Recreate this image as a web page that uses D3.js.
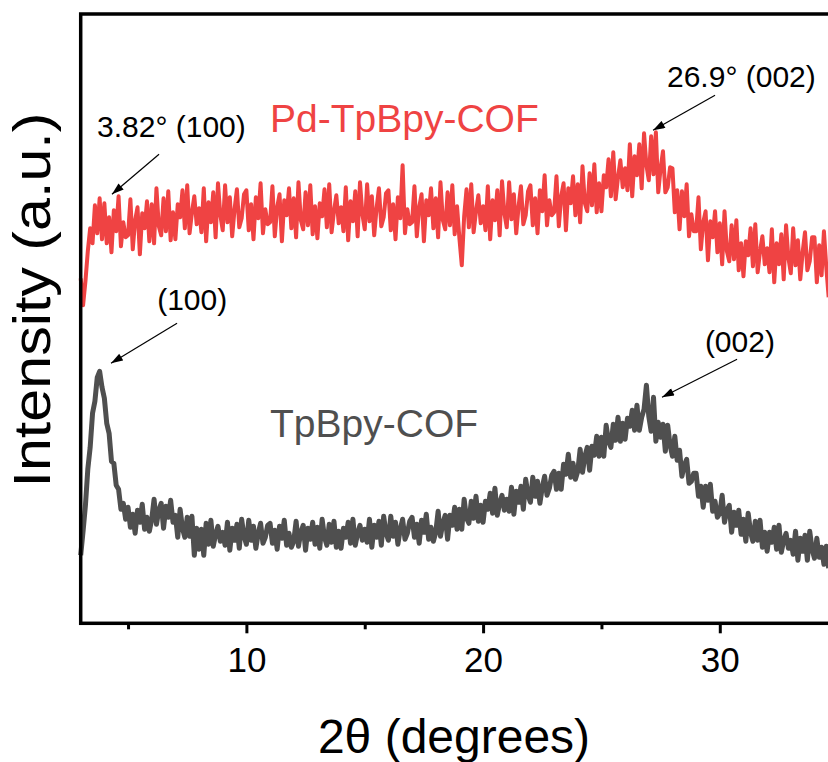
<!DOCTYPE html>
<html>
<head>
<meta charset="utf-8">
<script src="https://d3js.org/d3.v7.min.js"></script>
<style>
    body { margin: 0; background: #fff; }
    svg { display: block; font-family: "Liberation Sans", Arial, sans-serif; }
</style>
</head>
<body>
<div id="chart"></div>
<script>

// scan grid: 2theta from 3.0 deg, 0.1 deg per step, up to 34.6 deg
const twoTheta = d3.range(317).map(i => 3 + i * 0.1);

// TpBpy-COF intensity (a.u.), one row per degree
const tpbpy = [
    68, 92, 118, 154, 176, 210, 222, 246, 252, 236,
    225, 200, 190, 162, 160, 138, 134, 114, 120, 104,
    116, 96, 109, 90, 113, 101, 119, 94, 106, 92,
    104, 124, 99, 113, 120, 95, 117, 106, 123, 101,
    108, 86, 114, 95, 86, 106, 87, 107, 68, 95,
    74, 94, 68, 100, 79, 103, 77, 89, 97, 82,
    91, 78, 101, 73, 95, 83, 99, 75, 104, 87,
    79, 103, 83, 97, 75, 90, 100, 80, 86, 98,
    100, 80, 93, 74, 97, 85, 103, 78, 90, 76,
    82, 102, 77, 91, 98, 73, 95, 84, 101, 79,
    96, 75, 104, 86, 78, 99, 81, 102, 76, 92,
    75, 95, 86, 101, 80, 104, 78, 90, 98, 83,
    94, 81, 104, 76, 98, 86, 102, 78, 107, 90,
    83, 107, 87, 101, 79, 94, 104, 84, 90, 102,
    106, 86, 99, 80, 103, 91, 109, 84, 96, 82,
    91, 112, 87, 100, 108, 84, 108, 98, 116, 94,
    114, 94, 124, 105, 100, 122, 105, 127, 102, 118,
    101, 122, 114, 130, 110, 135, 108, 120, 128, 113,
    124, 112, 136, 109, 132, 121, 137, 114, 144, 128,
    121, 146, 127, 142, 120, 136, 147, 128, 135, 148,
    152, 134, 150, 134, 159, 149, 169, 146, 160, 144,
    152, 174, 151, 167, 176, 153, 177, 168, 187, 167,
    186, 167, 198, 182, 176, 199, 183, 206, 182, 200,
    184, 205, 197, 213, 193, 218, 193, 206, 214, 238,
    207, 192, 226, 182, 201, 186, 199, 172, 198, 178,
    167, 187, 163, 173, 147, 158, 164, 140, 142, 150,
    150, 127, 137, 116, 137, 123, 139, 112, 122, 106,
    110, 128, 101, 113, 118, 91, 111, 98, 113, 89,
    104, 82, 110, 91, 82, 102, 83, 103, 76, 91,
    72, 91, 81, 96, 74, 98, 71, 83, 90, 75,
    83, 69, 92, 63, 85, 72, 88, 63, 92, 74,
    65, 85, 66, 76, 59, 77, 55
];

// Pd-TpBpy-COF intensity (a.u.)
const pdTpbpy = [
    345, 318, 342, 372, 395, 380, 418, 390, 425, 384,
    420, 380, 406, 371, 413, 392, 427, 377, 401, 386,
    388, 424, 374, 403, 416, 369, 410, 395, 422, 382,
    419, 380, 435, 397, 388, 425, 392, 432, 383, 411,
    384, 419, 406, 433, 395, 438, 390, 411, 427, 399,
    415, 391, 435, 382, 421, 401, 431, 386, 440, 408,
    393, 438, 401, 426, 387, 414, 434, 396, 405, 429,
    433, 393, 419, 384, 426, 405, 440, 390, 414, 399,
    401, 437, 387, 416, 429, 382, 423, 408, 435, 395,
    425, 386, 441, 403, 394, 431, 398, 438, 389, 417,
    385, 420, 407, 434, 396, 439, 391, 412, 428, 400,
    416, 392, 436, 383, 422, 402, 432, 387, 441, 409,
    394, 439, 402, 427, 388, 415, 435, 397, 406, 430,
    433, 393, 419, 384, 426, 405, 458, 390, 414, 399,
    401, 437, 387, 416, 429, 382, 423, 408, 435, 395,
    425, 386, 441, 403, 394, 431, 398, 438, 389, 417,
    385, 358, 407, 434, 396, 439, 391, 412, 428, 400,
    417, 393, 437, 384, 423, 403, 433, 388, 442, 410,
    396, 441, 404, 429, 390, 417, 437, 399, 408, 432,
    438, 398, 425, 390, 433, 412, 448, 398, 423, 408,
    411, 447, 397, 427, 440, 393, 435, 420, 447, 408,
    439, 401, 457, 420, 412, 450, 418, 459, 411, 440,
    412, 448, 436, 464, 427, 471, 424, 446, 463, 436,
    455, 433, 479, 427, 467, 448, 479, 435, 490, 458,
    443, 487, 449, 491, 431, 455, 472, 431, 436, 456,
    455, 411, 433, 394, 432, 407, 439, 387, 409, 392,
    392, 426, 374, 401, 412, 363, 402, 386, 412, 371,
    400, 359, 412, 372, 362, 398, 364, 403, 353, 380,
    347, 382, 368, 395, 357, 399, 351, 372, 387, 359,
    375, 351, 394, 341, 380, 359, 389, 344, 398, 365,
    350, 395, 358, 383, 344, 371, 391, 353, 362, 386,
    386, 341, 378, 348, 392, 356, 326
];

const xTicks = [10, 20, 30];
const xMinorTicks = [5, 15, 25];

// peak annotations: label anchor and arrow (from -> to) in data units
const peakNotes = [
    {text: "3.82\u00b0 (100)", lx: 3.69, ly: 486, x1: 6.31, y1: 469, x2: 4.32, y2: 429},
    {text: "26.9\u00b0 (002)", lx: 27.77, ly: 536, x1: 29.8, y1: 528, x2: 27.18, y2: 493},
    {text: "(100)", lx: 6.23, ly: 313, x1: 7.07, y1: 300, x2: 4.28, y2: 260},
    {text: "(002)", lx: 29.37, ly: 271, x1: 30.73, y1: 264, x2: 27.56, y2: 226}
];

const seriesNames = ["Pd-TpBpy-COF", "TpBpy-COF"];
const seriesColors = ["#ef4343", "#4f4f4f"];

class XrdVis {

    constructor(parentElement) {
        this.parentElement = parentElement;
        this.initVis();
    }

    initVis() {
        let vis = this;

        vis.width = 828;
        vis.height = 762;

        vis.svg = d3.select("#" + vis.parentElement).append("svg")
            .attr("width", vis.width)
            .attr("height", vis.height);

        // plot box (right edge runs off the page like in the figure)
        vis.box = {left: 80.7, top: 14, bottom: 623.3};

        vis.x = d3.scaleLinear()
            .domain([3, 35])
            .range([vis.box.left, vis.box.left + 32 * 23.67]);

        vis.y = d3.scaleLinear()
            .domain([0, 609.3])
            .range([vis.box.bottom, vis.box.top]);

        vis.svg.append("defs").append("marker")
            .attr("id", "arrowHead")
            .attr("markerUnits", "userSpaceOnUse")
            .attr("viewBox", "0 0 12 8")
            .attr("refX", 12)
            .attr("refY", 4)
            .attr("markerWidth", 13)
            .attr("markerHeight", 8)
            .attr("orient", "auto")
            .append("path")
            .attr("d", "M0,0 L12,4 L0,8 Z")
            .attr("fill", "#000");

        vis.wrangleData();
    }

    wrangleData() {
        let vis = this;

        vis.displayData = [
            {name: seriesNames[0], color: seriesColors[0], values: twoTheta.map((t, i) => ({t: t, v: pdTpbpy[i]}))},
            {name: seriesNames[1], color: seriesColors[1], values: twoTheta.map((t, i) => ({t: t, v: tpbpy[i]}))}
        ];

        vis.updateVis();
    }

    updateVis() {
        let vis = this;

        let line = d3.line()
            .x(d => vis.x(d.t))
            .y(d => vis.y(d.v));

        // traces
        vis.svg.selectAll(".trace")
            .data(vis.displayData)
            .enter()
            .append("path")
            .attr("class", "trace")
            .attr("d", d => line(d.values))
            .attr("fill", "none")
            .attr("stroke", d => d.color)
            .attr("stroke-width", (d, i) => i === 0 ? 4 : 5)
            .attr("stroke-linejoin", "round");

        // frame
        vis.svg.append("rect")
            .attr("x", vis.box.left)
            .attr("y", vis.box.top)
            .attr("width", vis.x(35) - vis.box.left)
            .attr("height", vis.box.bottom - vis.box.top)
            .attr("fill", "none")
            .attr("stroke", "#000")
            .attr("stroke-width", 3.5);

        // x axis ticks + labels
        let xAxis = d3.axisBottom(vis.x)
            .tickValues(xTicks)
            .tickSize(10)
            .tickPadding(14)
            .tickFormat(d3.format("d"));

        let gx = vis.svg.append("g")
            .attr("transform", "translate(0," + vis.box.bottom + ")")
            .call(xAxis);
        gx.select(".domain").remove();
        gx.selectAll(".tick line").attr("stroke", "#000").attr("stroke-width", 3);
        gx.selectAll(".tick text")
            .attr("fill", "#000")
            .attr("font-size", 35)
            .attr("font-family", "'Liberation Sans', Arial, sans-serif");

        let gxMinor = vis.svg.append("g")
            .attr("transform", "translate(0," + vis.box.bottom + ")")
            .call(d3.axisBottom(vis.x).tickValues(xMinorTicks).tickSize(6).tickFormat(""));
        gxMinor.select(".domain").remove();
        gxMinor.selectAll(".tick line").attr("stroke", "#000").attr("stroke-width", 3);

        // axis titles
        vis.svg.append("text")
            .attr("x", 454)
            .attr("y", 753)
            .attr("text-anchor", "middle")
            .attr("font-size", 48)
            .attr("fill", "#000")
            .text("2\u03b8 (degrees)");

        vis.svg.append("text")
            .attr("transform", "translate(50,300) rotate(-90)")
            .attr("text-anchor", "middle")
            .attr("font-size", 51)
            .attr("textLength", 375)
            .attr("lengthAdjust", "spacingAndGlyphs")
            .attr("fill", "#000")
            .text("Intensity (a.u.)");

        // series names
        vis.svg.append("text")
            .attr("x", vis.x(11.0))
            .attr("y", vis.y(491))
            .attr("font-size", 39)
            .attr("fill", seriesColors[0])
            .text(seriesNames[0]);

        vis.svg.append("text")
            .attr("x", vis.x(11.0))
            .attr("y", vis.y(186))
            .attr("font-size", 39)
            .attr("fill", seriesColors[1])
            .text(seriesNames[1]);

        // peak labels + arrows
        vis.svg.selectAll(".peakLabel")
            .data(peakNotes)
            .enter()
            .append("text")
            .attr("class", "peakLabel")
            .attr("x", d => vis.x(d.lx))
            .attr("y", d => vis.y(d.ly))
            .attr("font-size", 30)
            .attr("fill", "#000")
            .text(d => d.text);

        vis.svg.selectAll(".peakArrow")
            .data(peakNotes)
            .enter()
            .append("line")
            .attr("class", "peakArrow")
            .attr("x1", d => vis.x(d.x1))
            .attr("y1", d => vis.y(d.y1))
            .attr("x2", d => vis.x(d.x2))
            .attr("y2", d => vis.y(d.y2))
            .attr("stroke", "#000")
            .attr("stroke-width", 1.2)
            .attr("marker-end", "url(#arrowHead)");
    }
}

new XrdVis("chart");

</script>
</body>
</html>
